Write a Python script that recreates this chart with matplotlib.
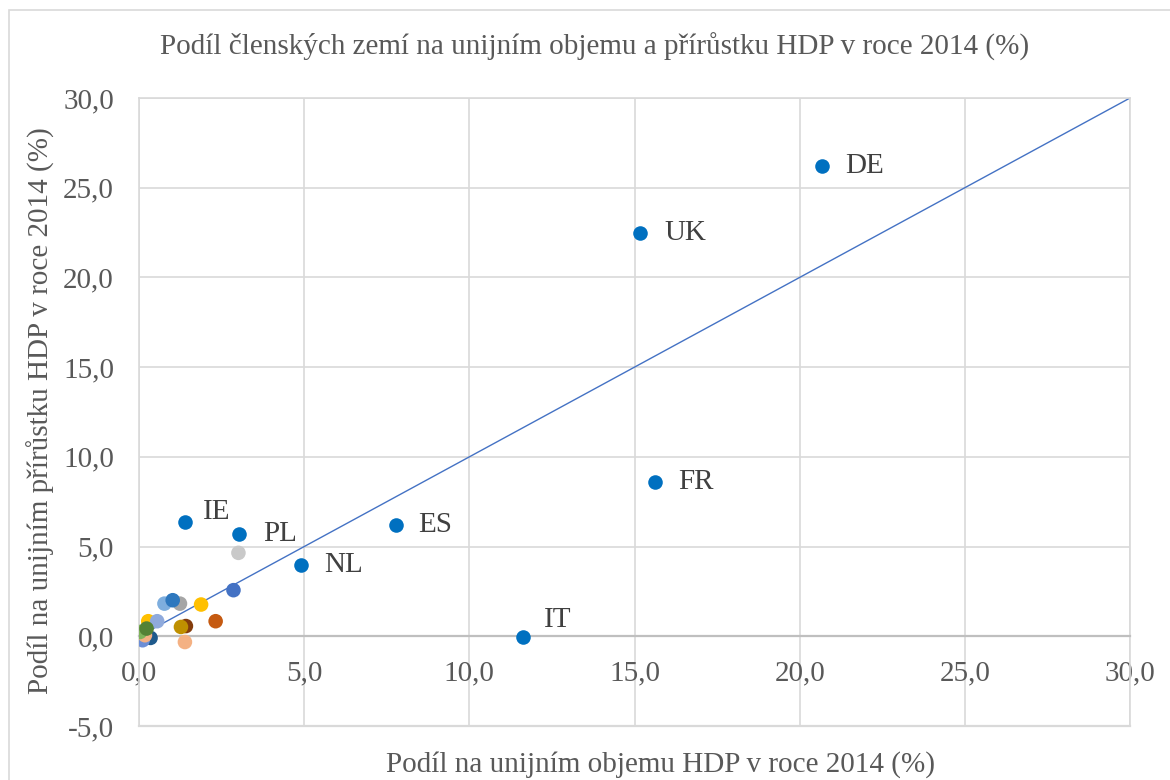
import matplotlib
matplotlib.use("Agg")
import matplotlib.pyplot as plt
from matplotlib.patches import Rectangle
from matplotlib.ticker import FuncFormatter, MultipleLocator

# Share of EU GDP volume (x) and of EU GDP growth (y), 2014, %
labels = ["DE", "UK", "FR", "IT", "ES", "NL", "PL", "IE"]
lab_x = [20.68, 15.17, 15.62, 11.63, 7.78, 4.90, 3.03, 1.39]
lab_y = [26.20, 22.48, 8.59, -0.02, 6.19, 3.96, 5.72, 6.37]
lab_dx = [23, 24, 23, 21, 22, 23, 24, 18]   # label offsets (px)
lab_dy = [0, 0, 0, 17, 0, 0, 0, 10]

other_x = [3.01, 2.86, 0.77, 1.24, 1.02, 1.88, 2.32, 1.42, 1.27, 1.39,
           0.28, 0.55, 0.35, 0.11, 0.18, 0.03, 0.23]
other_y = [4.65, 2.57, 1.82, 1.82, 2.01, 1.77, 0.84, 0.57, 0.52, -0.32,
           0.84, 0.84, -0.09, -0.22, 0.06, 0.24, 0.43]
other_c = ["#C9C9C9", "#4472C4", "#7EAEDE", "#A5A5A5", "#2E78BE", "#FFC000",
           "#C55A11", "#843C0C", "#BF9000", "#F4B183",
           "#FFC000", "#8FAADC", "#1F5A8C", "#6C8ED6", "#F4B183", "#7FB35A", "#548235"]

title = "Podíl členských zemí na unijním objemu a přírůstku HDP v roce 2014 (%)"
xlabel = "Podíl na unijním objemu HDP v roce 2014 (%)"
ylabel = "Podíl na unijním přírůstku HDP v roce 2014 (%)"

plt.rcParams['font.family'] = ['Liberation Serif', 'DejaVu Serif']
W, H = 1170, 780
fig = plt.figure(figsize=(W / 100, H / 100), dpi=100)
fig.patches.append(Rectangle((9 / W, -0.1), 1.2, 1 - 10 / H + 0.1, transform=fig.transFigure,
                             fill=False, edgecolor="#D9D9D9", linewidth=1.2))

ax = fig.add_axes([139 / W, 1 - 726 / H, (1130 - 139) / W, (726 - 98) / H])
ax.set_xlim(0, 30)
ax.set_ylim(-5, 30)
ax.xaxis.set_major_locator(MultipleLocator(5))
ax.yaxis.set_major_locator(MultipleLocator(5))
fmt = FuncFormatter(lambda v, p: f"{v:.1f}".replace(".", ","))
ax.xaxis.set_major_formatter(fmt)
ax.yaxis.set_major_formatter(fmt)
ax.grid(True, color="#D9D9D9", linewidth=1.2)
ax.set_axisbelow(True)
for s in ax.spines.values():
    s.set_color("#D9D9D9")
    s.set_linewidth(1.2)
# horizontal axis crosses at y = 0, labels next to it
ax.spines['bottom'].set_position(('data', 0))
ax.spines['bottom'].set_color("#BFBFBF")
ax.spines['bottom'].set_linewidth(1.6)
ax.axhline(-5, color="#D9D9D9", linewidth=1.6, zorder=1, clip_on=False)
ax.tick_params(length=0, labelsize=21, colors="#595959")
ax.tick_params(axis="x", pad=17)
ax.tick_params(axis="y", pad=18)

ax.plot([0, 30], [0, 30], color="#4472C4", linewidth=1.0, zorder=2)

ax.scatter(other_x, other_y, s=110, c=other_c, zorder=3, linewidths=0)
ax.scatter(lab_x, lab_y, s=110, c="#0070C0", zorder=4, linewidths=0)
for t, x, y, dx, dy in zip(labels, lab_x, lab_y, lab_dx, lab_dy):
    ax.annotate(t, (x, y), xytext=(dx * 0.72, dy * 0.72), textcoords="offset points",
                ha="left", va="center", fontsize=21, color="#404040")

fig.text(595 / W, 1 - 47 / H, title, ha="center", va="center", fontsize=21, color="#595959")
fig.text(661 / W, 1 - 765 / H, xlabel, ha="center", va="center", fontsize=21, color="#595959")
fig.text(41 / W, 1 - 411 / H, ylabel, ha="center", va="center", rotation=90, fontsize=21, color="#595959")

fig.savefig("out.png", dpi=100)
